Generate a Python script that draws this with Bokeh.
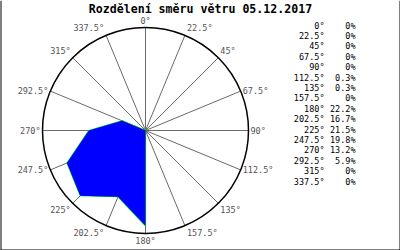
import numpy as np
from bokeh.plotting import figure
from bokeh.models import Range1d, Span
from bokeh.core.properties import value
from bokeh.embed import file_html
from bokeh.resources import INLINE

title = "Rozdělení směru větru 05.12.2017"
directions = [0, 22.5, 45, 67.5, 90, 112.5, 135, 157.5, 180, 202.5, 225, 247.5, 270, 292.5, 315, 337.5]
dir_labels = ["0°", "22.5°", "45°", "67.5°", "90°", "112.5°", "135°", "157.5°",
              "180°", "202.5°", "225°", "247.5°", "270°", "292.5°", "315°", "337.5°"]
percent = [0, 0, 0, 0, 0, 0.3, 0.3, 0, 22.2, 16.7, 21.5, 19.8, 13.2, 5.9, 0, 0]
pct_labels = ["0%", "0%", "0%", "0%", "0%", "0.3%", "0.3%", "0%",
              "22.2%", "16.7%", "21.5%", "19.8%", "13.2%", "5.9%", "0%", "0%"]
r_max = 24.0

R = 103.0
k = R / r_max
MONO = value("DejaVu Sans Mono")

p = figure(width=400, height=250, output_backend="svg", toolbar_location=None,
           x_range=Range1d(-145, 255), y_range=Range1d(-120, 130),
           min_border=0, outline_line_color=None, background_fill_color="white",
           border_fill_color="white")
p.axis.visible = False
p.grid.visible = False

th = np.radians(np.array(directions))
sx, sy = np.sin(th), np.cos(th)

# spokes
p.segment(x0=np.zeros(len(th)), y0=np.zeros(len(th)), x1=R * sx, y1=R * sy,
          line_color="#6a6a6a", line_width=1)

# data polygon
pr = np.array(percent) * k
px, py = pr * sx, pr * sy
p.patch(list(px), list(py), fill_color="#0000ff", line_color="#00dd00", line_width=1.2)
p.patch(list(px), list(py), fill_color="#0000ff", line_color=None)

# outer circle
p.circle(x=[0], y=[0], radius=R, fill_color=None, line_color="black", line_width=1.5)

# angle labels
for ang, lab, s, c in zip(directions, dir_labels, sx, sy):
    x, y = R * s, R * c
    if abs(s) < 0.1:
        align = "center"
    elif s > 0:
        align = "left"; x += 2
    else:
        align = "right"; x -= 2
    if abs(c) < 0.5:
        base = "middle"
    elif c > 0:
        base = "bottom"; y += 2
    else:
        base = "top"; y -= 2
    p.text(x=[x], y=[y], text=[lab], text_align=align, text_baseline=base,
           text_font=MONO, text_font_size="8.5px", text_color="#555555")

# legend table
rows_y = 105 - 10.4 * np.arange(len(directions))
p.text(x=[179] * len(directions), y=list(rows_y), text=dir_labels, text_align="right",
       text_baseline="middle", text_font=MONO, text_font_size="8.5px",
       text_color="black")
p.text(x=[210] * len(directions), y=list(rows_y), text=pct_labels, text_align="right",
       text_baseline="middle", text_font=MONO, text_font_size="8.5px",
       text_color="black")

# title
p.text(x=[55], y=[122], text=[title], text_align="center", text_baseline="middle",
       text_font=MONO, text_font_style="bold", text_font_size="11.6px",
       text_color="black")

# border (left, right, bottom)
p.add_layout(Span(location=-145, dimension="height", line_color="black", line_width=2))
p.add_layout(Span(location=255, dimension="height", line_color="black", line_width=2))
p.add_layout(Span(location=-120, dimension="width", line_color="black", line_width=2))

open("out.html", "w").write(file_html(p, INLINE))
